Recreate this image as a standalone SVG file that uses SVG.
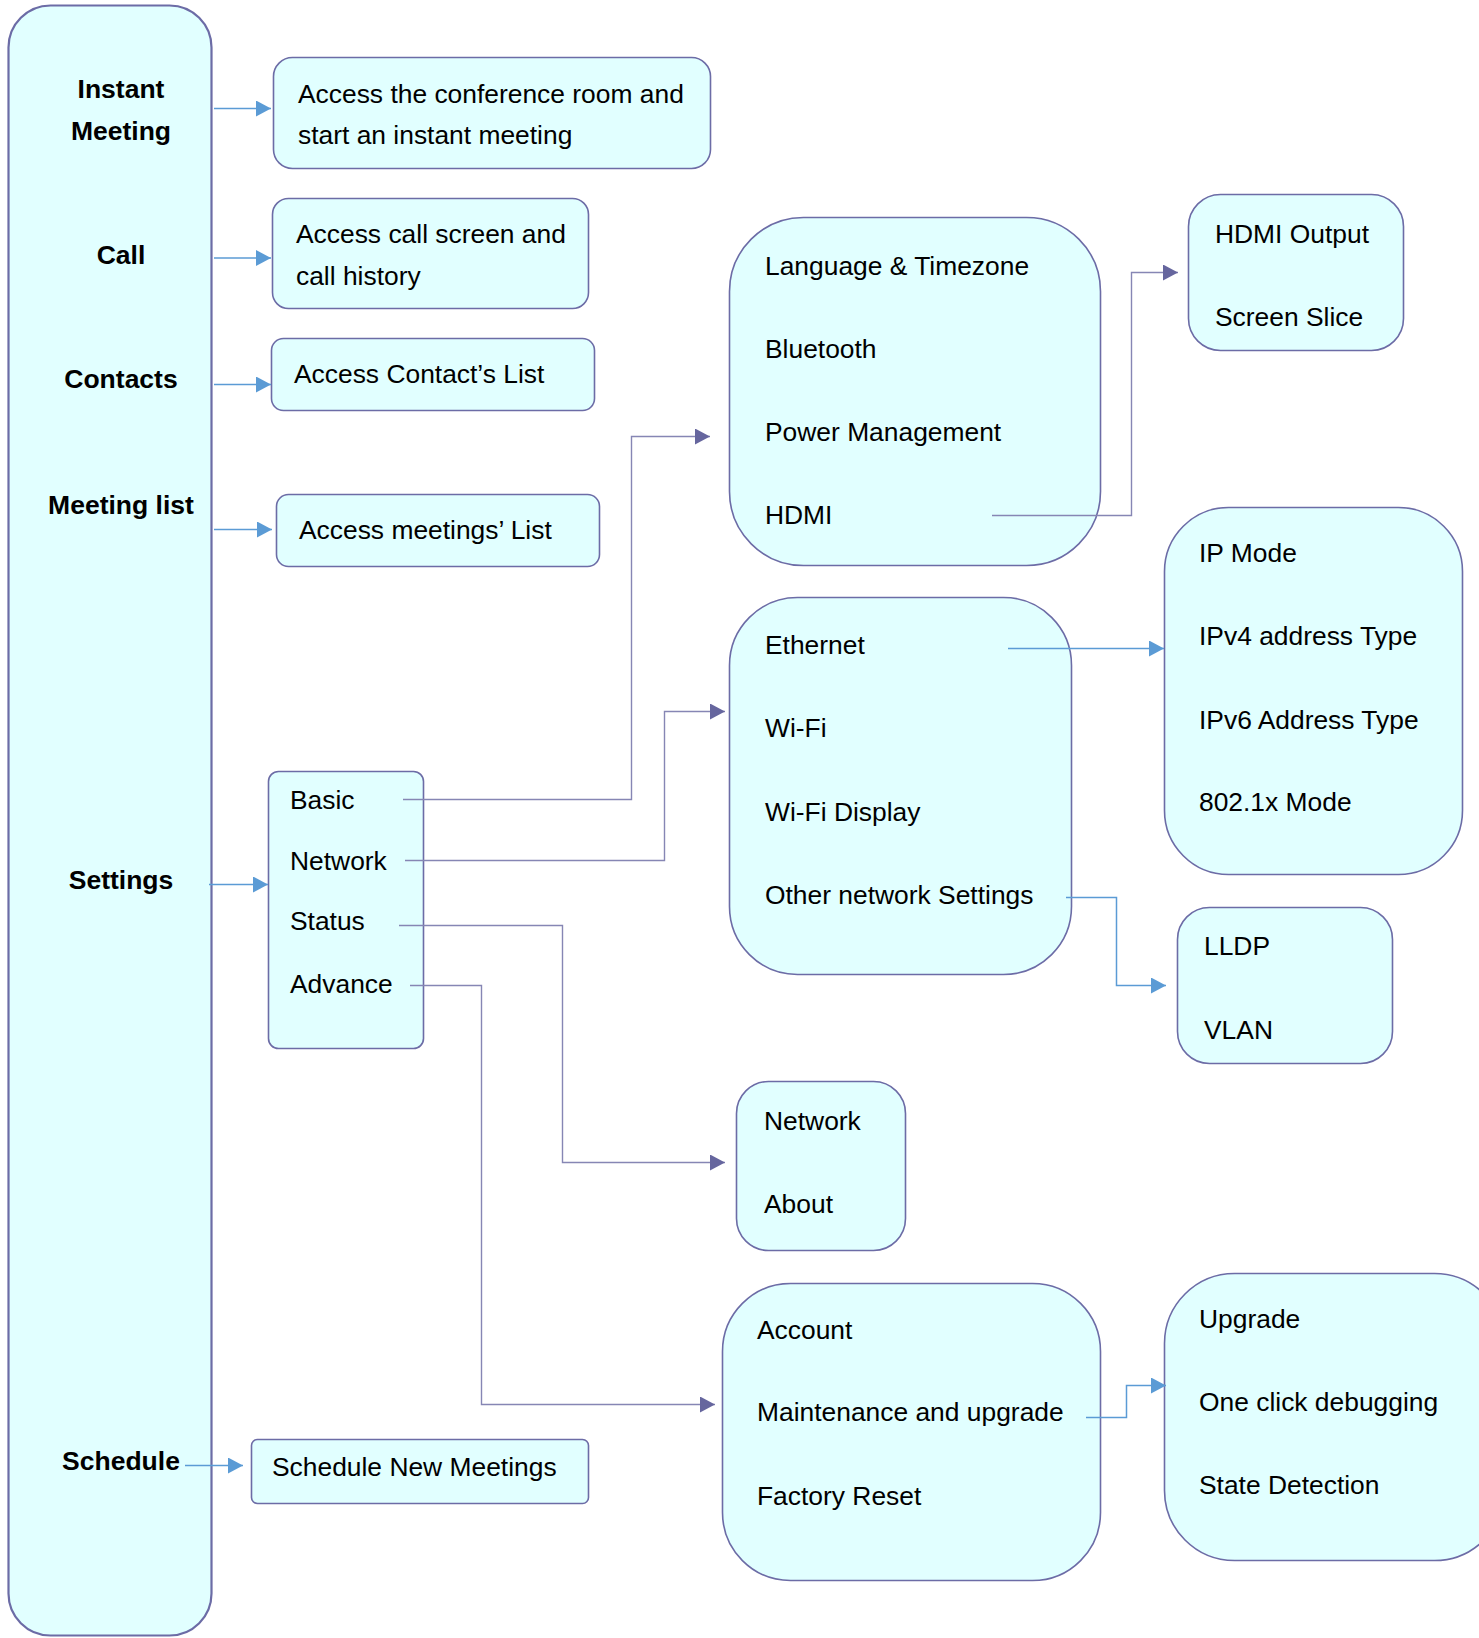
<svg xmlns="http://www.w3.org/2000/svg" width="1479" height="1638" viewBox="0 0 1479 1638">
<style>
.box{fill:#E1FFFF;stroke:#6C6CA6;stroke-width:1.6}
.main{fill:#E1FFFF;stroke:#6C6CA6;stroke-width:2.2}
.t{font-family:"Liberation Sans",Arial,sans-serif;font-size:26.4px;fill:#000}
.b{font-family:"Liberation Sans",Arial,sans-serif;font-size:26.5px;font-weight:bold;fill:#000;text-anchor:middle}
.cb{fill:none;stroke:#5B9BD5;stroke-width:1.5}
.cp{fill:none;stroke:#8686B4;stroke-width:1.4}
</style>
<defs>
<marker id="ab" markerUnits="userSpaceOnUse" markerWidth="16" markerHeight="16" refX="15" refY="8" orient="auto"><path d="M0,0 L15,8 L0,16 z" fill="#5B9BD5"/></marker>
<marker id="ap" markerUnits="userSpaceOnUse" markerWidth="16" markerHeight="16" refX="15" refY="8" orient="auto"><path d="M0,0 L15,8 L0,16 z" fill="#66669E"/></marker>
</defs>
<rect width="1479" height="1638" fill="#fff"/>

<g id="menu">
<rect class="main" x="8.5" y="5.5" width="203" height="1630" rx="42"/>
<text class="b" x="121" y="98">Instant</text>
<text class="b" x="121" y="140">Meeting</text>
<text class="b" x="121" y="264">Call</text>
<text class="b" x="121" y="388">Contacts</text>
<text class="b" x="121" y="514">Meeting list</text>
<text class="b" x="121" y="889">Settings</text>
<text class="b" x="121" y="1470">Schedule</text>
</g>

<g id="instant">
<rect class="box" x="273.5" y="57.5" width="437" height="111" rx="19"/>
<text class="t" x="298" y="103">Access the conference room and</text>
<text class="t" x="298" y="144">start an instant meeting</text>
</g>
<g id="call">
<rect class="box" x="272.5" y="198.5" width="316" height="110" rx="16"/>
<text class="t" x="296" y="243">Access call screen and</text>
<text class="t" x="296" y="285">call history</text>
</g>
<g id="contacts">
<rect class="box" x="271.5" y="338.5" width="323" height="72" rx="12"/>
<text class="t" x="294" y="383">Access Contact’s List</text>
</g>
<g id="meetinglist">
<rect class="box" x="276.5" y="494.5" width="323" height="72" rx="12"/>
<text class="t" x="299" y="539">Access meetings’ List</text>
</g>
<g id="schedule">
<rect class="box" x="251.5" y="1439.5" width="337" height="64" rx="6"/>
<text class="t" x="272" y="1476">Schedule New Meetings</text>
</g>
<g id="settings">
<rect class="box" x="268.5" y="771.5" width="155" height="277" rx="10"/>
<text class="t" x="290" y="809">Basic</text>
<text class="t" x="290" y="870">Network</text>
<text class="t" x="290" y="930">Status</text>
<text class="t" x="290" y="993">Advance</text>
</g>
<g id="basic">
<rect class="box" x="729.5" y="217.5" width="371" height="348" rx="74"/>
<text class="t" x="765" y="275">Language &amp; Timezone</text>
<text class="t" x="765" y="358">Bluetooth</text>
<text class="t" x="765" y="441">Power Management</text>
<text class="t" x="765" y="524">HDMI</text>
</g>
<g id="hdmi">
<rect class="box" x="1188.5" y="194.5" width="215" height="156" rx="32"/>
<text class="t" x="1215" y="243">HDMI Output</text>
<text class="t" x="1215" y="326">Screen Slice</text>
</g>
<g id="network">
<rect class="box" x="729.5" y="597.5" width="342" height="377" rx="68"/>
<text class="t" x="765" y="654">Ethernet</text>
<text class="t" x="765" y="737">Wi-Fi</text>
<text class="t" x="765" y="821">Wi-Fi Display</text>
<text class="t" x="765" y="904">Other network Settings</text>
</g>
<g id="ethernet">
<rect class="box" x="1164.5" y="507.5" width="298" height="367" rx="64"/>
<text class="t" x="1199" y="562">IP Mode</text>
<text class="t" x="1199" y="645">IPv4 address Type</text>
<text class="t" x="1199" y="729">IPv6 Address Type</text>
<text class="t" x="1199" y="811">802.1x Mode</text>
</g>
<g id="other">
<rect class="box" x="1177.5" y="907.5" width="215" height="156" rx="32"/>
<text class="t" x="1204" y="955">LLDP</text>
<text class="t" x="1204" y="1039">VLAN</text>
</g>
<g id="status">
<rect class="box" x="736.5" y="1081.5" width="169" height="169" rx="32"/>
<text class="t" x="764" y="1130">Network</text>
<text class="t" x="764" y="1213">About</text>
</g>
<g id="advance">
<rect class="box" x="722.5" y="1283.5" width="378" height="297" rx="68"/>
<text class="t" x="757" y="1339">Account</text>
<text class="t" x="757" y="1421">Maintenance and upgrade</text>
<text class="t" x="757" y="1505">Factory Reset</text>
</g>
<g id="maintenance">
<rect class="box" x="1164.5" y="1273.5" width="340" height="287" rx="70"/>
<text class="t" x="1199" y="1328">Upgrade</text>
<text class="t" x="1199" y="1411">One click debugging</text>
<text class="t" x="1199" y="1494">State Detection</text>
</g>

<g id="connectors">
<path class="cb" d="M214,108.5 H271" marker-end="url(#ab)"/>
<path class="cb" d="M214,258 H271" marker-end="url(#ab)"/>
<path class="cb" d="M214,384.5 H271" marker-end="url(#ab)"/>
<path class="cb" d="M214,529.5 H272" marker-end="url(#ab)"/>
<path class="cb" d="M209,884.5 H268" marker-end="url(#ab)"/>
<path class="cb" d="M185,1465.5 H243" marker-end="url(#ab)"/>
<path class="cp" d="M403,799.5 H631.5 V436.5 H710" marker-end="url(#ap)"/>
<path class="cp" d="M405,860.5 H664.5 V711.5 H725" marker-end="url(#ap)"/>
<path class="cp" d="M399,925.5 H562.5 V1162.5 H725" marker-end="url(#ap)"/>
<path class="cp" d="M410,985.5 H481.5 V1404.5 H715" marker-end="url(#ap)"/>
<path class="cp" d="M992,515.5 H1131.5 V272.5 H1178" marker-end="url(#ap)"/>
<path class="cb" d="M1008,648.5 H1164" marker-end="url(#ab)"/>
<path class="cb" d="M1066,897.5 H1116.5 V985.5 H1166" marker-end="url(#ab)"/>
<path class="cb" d="M1086,1417.5 H1126.5 V1385.5 H1166" marker-end="url(#ab)"/>
</g>
</svg>
